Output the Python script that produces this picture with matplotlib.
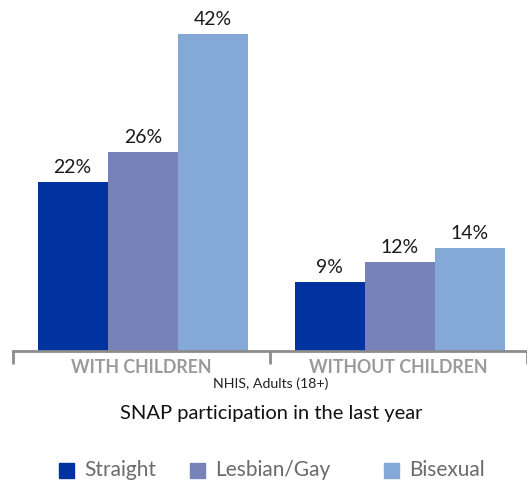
import matplotlib
matplotlib.use('Agg')
import matplotlib.pyplot as plt
import matplotlib.patches as mpatches
import numpy as np

# Data (bar heights, labels rounded)
groups = ['WITH CHILDREN', 'WITHOUT CHILDREN']
series = ['Straight', 'Lesbian/Gay', 'Bisexual']
values = {
    'Straight': [22.4, 9.2],
    'Lesbian/Gay': [26.4, 11.8],
    'Bisexual': [42.0, 13.7],
}
colors = ['#0033a0', '#7782b8', '#85a9d6']

plt.rcParams['font.family'] = ['Lato', 'DejaVu Sans']

W, H = 527, 483
fig = plt.figure(figsize=(W / 100, H / 100), dpi=100)
ax = fig.add_axes([13 / W, 132 / H, 514 / W, 332 / H])

x = np.arange(len(groups))
bw = 0.273
for i, (name, col) in enumerate(zip(series, colors)):
    pos = x + (i - 1) * bw + 0.005
    bars = ax.bar(pos, values[name], bw, color=col, edgecolor='none')
    for b in bars:
        h = b.get_height()
        ax.text(b.get_x() + b.get_width() / 2, h + 0.8, f'{round(h)}%',
                ha='center', va='bottom', fontsize=14, color='#1a1a1a')

ax.set_xlim(-0.5, 1.492)
ax.set_ylim(0, 44)
for s in ['top', 'right', 'left']:
    ax.spines[s].set_visible(False)
ax.spines['bottom'].set_color('#8c8c8c')
ax.spines['bottom'].set_linewidth(2)
ax.set_yticks([])
ax.set_xticks([-0.5, 0.5, 1.5])
ax.set_xticklabels([])
ax.tick_params(axis='x', length=9, width=2, color='#8c8c8c', direction='out')

for xi, g in zip(x, groups):
    ax.text(xi, -0.05, g, transform=ax.get_xaxis_transform(), ha='center', va='center',
            fontsize=12.8, fontweight='bold', color='#9b9b9b')

fig.text(271 / W, 1 - 384 / H, 'NHIS, Adults (18+)', ha='center', va='center',
         fontsize=10.2, color='#222222')
fig.text(271 / W, 1 - 413 / H, 'SNAP participation in the last year', ha='center', va='center',
         fontsize=14.5, color='#111111')

# Legend
leg_x = [59, 190, 384]
for lx, name, col in zip(leg_x, series, colors):
    fig.patches.append(mpatches.Rectangle((lx / W, 1 - 478 / H), 15 / W, 15 / H,
                                          transform=fig.transFigure, color=col))
    fig.text((lx + 25) / W, 1 - 470 / H, name, ha='left', va='center',
             fontsize=15, color='#6b6b6b')

fig.savefig('out.png', dpi=100)
